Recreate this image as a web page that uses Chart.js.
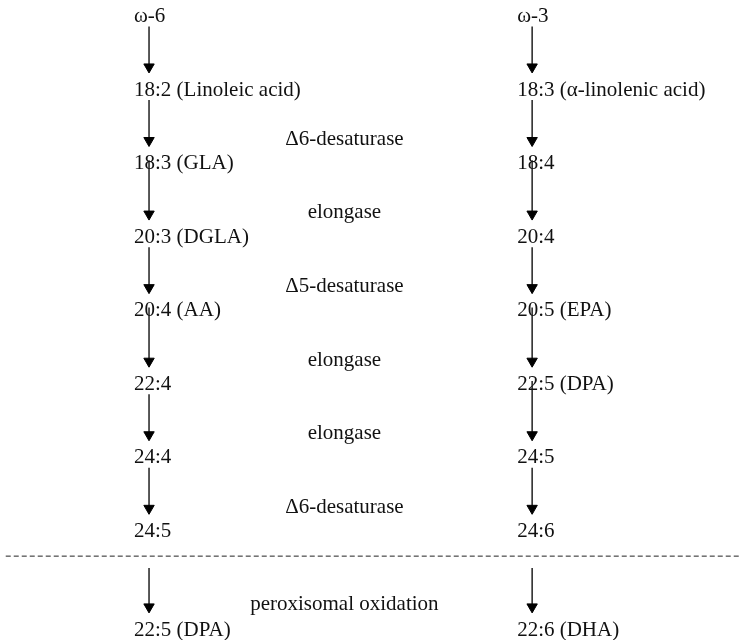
<!DOCTYPE html>
<html>
<head>
<meta charset="utf-8">
<script src="https://cdn.jsdelivr.net/npm/chart.js@4/dist/chart.umd.min.js"></script>
<style>
  html, body { margin: 0; padding: 0; background: #fff; }
  #wrap { width: 739px; height: 640px; }
</style>
</head>
<body>
<div id="wrap"><canvas id="pathway" width="739" height="640"></canvas></div>
<script>
// pathway rows (same index = same row level)
const omega6 = ['ω-6', '18:2 (Linoleic acid)', '18:3 (GLA)', '20:3 (DGLA)', '20:4 (AA)', '22:4', '24:4', '24:5', '22:5 (DPA)'];
const omega3 = ['ω-3', '18:3 (α-linolenic acid)', '18:4', '20:4', '20:5 (EPA)', '22:5 (DPA)', '24:5', '24:6', '22:6 (DHA)'];
const rowLevels = [0, 1, 2, 3, 4, 5, 6, 7, 8.34];
const enzymes = ['Δ6-desaturase', 'elongase', 'Δ5-desaturase', 'elongase', 'elongase', 'Δ6-desaturase', 'peroxisomal oxidation'];
const enzymeLevels = [1.67, 2.67, 3.67, 4.67, 5.67, 6.67, 7.99];
const dividerLevel = 7.26;
// rows where the outgoing arrow starts up inside the label (as in the source)
const w6Through = [2, 4];
const w3Through = [2, 4, 5];

// columns on the x scale
const COL_W6 = 1, COL_W3 = 2, COL_ENZ = 1.51;
const X_MIN = 0.626, X_MAX = 2.54;

const FONT = '21px "Liberation Serif", "DejaVu Serif", serif';
const INK = '#000';

function arrowSets(col, through) {
  const sets = [];
  for (let i = 0; i < rowLevels.length - 1; i++) {
    const next = rowLevels[i + 1];
    const crosses = next > dividerLevel && rowLevels[i] < dividerLevel;
    let start = rowLevels[i] + 0.06;
    if (crosses) start = dividerLevel + 0.16;
    else if (through.includes(i)) start = rowLevels[i] - 0.12;
    const tip = next - 0.31;
    sets.push({
      type: 'line',
      data: [{ x: col, y: start }, { x: col, y: tip - 0.08 }],
      borderColor: INK,
      borderWidth: 1.3,
      pointRadius: [0, 6],
      pointHoverRadius: [0, 6],
      pointStyle: 'triangle',
      rotation: 180,
      pointBackgroundColor: INK,
      pointBorderColor: INK,
      pointBorderWidth: 1,
      clip: false
    });
  }
  return sets;
}

const labelPlugin = {
  id: 'pathwayLabels',
  afterDatasetsDraw(chart) {
    const { ctx } = chart;
    const xs = chart.scales.x, ys = chart.scales.y;
    ctx.save();
    ctx.font = FONT;
    ctx.fillStyle = '#111';
    ctx.textBaseline = 'alphabetic';
    ctx.textAlign = 'left';
    omega6.forEach((t, i) => ctx.fillText(t, xs.getPixelForValue(COL_W6) - 15, ys.getPixelForValue(rowLevels[i])));
    omega3.forEach((t, i) => ctx.fillText(t, xs.getPixelForValue(COL_W3) - 15, ys.getPixelForValue(rowLevels[i])));
    ctx.textAlign = 'center';
    enzymes.forEach((t, i) => ctx.fillText(t, xs.getPixelForValue(COL_ENZ), ys.getPixelForValue(enzymeLevels[i])));
    ctx.restore();
  }
};

new Chart(document.getElementById('pathway'), {
  type: 'line',
  data: {
    datasets: [
      ...arrowSets(COL_W6, w6Through),
      ...arrowSets(COL_W3, w3Through),
      {
        type: 'line',
        data: [{ x: X_MIN, y: dividerLevel }, { x: X_MAX, y: dividerLevel }],
        borderColor: '#222',
        borderWidth: 1,
        borderDash: [5, 3],
        pointRadius: 0,
        clip: false
      }
    ]
  },
  options: {
    responsive: false,
    animation: false,
    layout: { padding: 0, autoPadding: false },
    plugins: { legend: { display: false }, tooltip: { enabled: false } },
    events: [],
    scales: {
      x: { type: 'linear', display: false, min: 0.611, max: X_MAX },
      y: { type: 'linear', display: false, reverse: true, min: -0.3, max: 8.4 }
    }
  },
  plugins: [labelPlugin]
});
</script>
</body>
</html>
